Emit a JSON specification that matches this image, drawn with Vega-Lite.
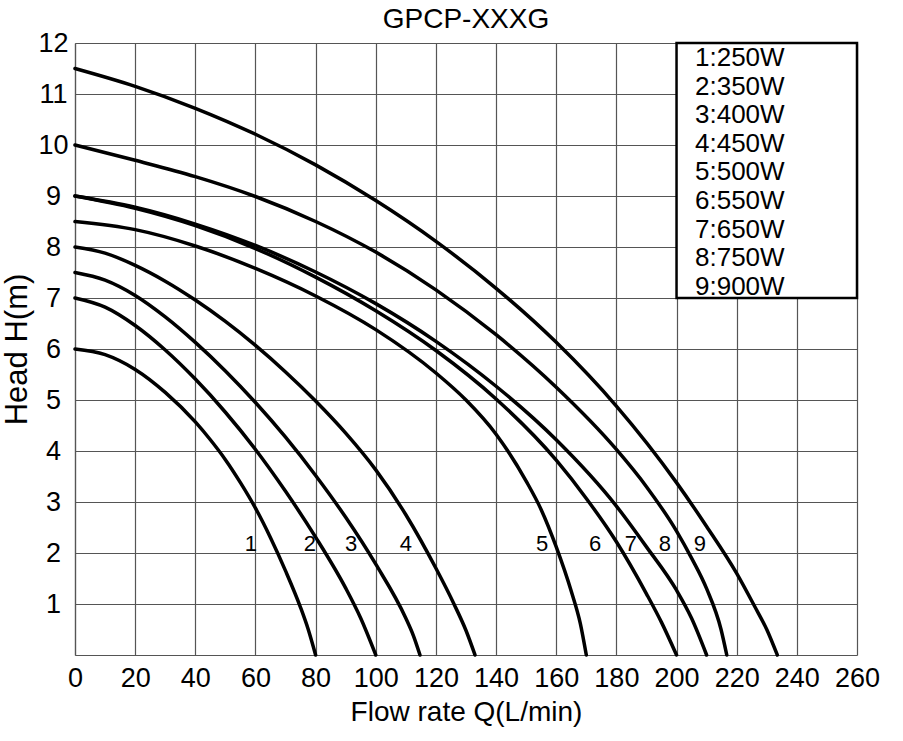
{
  "$schema": "https://vega.github.io/schema/vega-lite/v6.json",
  "width": 782,
  "height": 612,
  "autosize": {"type": "none"},
  "padding": {"left": 75, "top": 43, "right": 46, "bottom": 86},
  "background": "white",
  "title": {"text": "GPCP-XXXG", "fontSize": 28, "font": "Liberation Sans", "fontWeight": "normal", "color": "black", "anchor": "middle", "offset": -5},
  "datasets": {
    "curves": [
      {"s": "1:250W", "q": 0, "h": 6}, {"s": "1:250W", "q": 10, "h": 5.89}, {"s": "1:250W", "q": 20, "h": 5.6}, {"s": "1:250W", "q": 30, "h": 5.15}, {"s": "1:250W", "q": 40, "h": 4.57}, {"s": "1:250W", "q": 45, "h": 4.22}, {"s": "1:250W", "q": 50, "h": 3.83}, {"s": "1:250W", "q": 55, "h": 3.38}, {"s": "1:250W", "q": 60, "h": 2.88}, {"s": "1:250W", "q": 65, "h": 2.3}, {"s": "1:250W", "q": 70, "h": 1.65}, {"s": "1:250W", "q": 75, "h": 0.93}, {"s": "1:250W", "q": 77.5, "h": 0.51}, {"s": "1:250W", "q": 80, "h": 0},
      {"s": "2:350W", "q": 0, "h": 7}, {"s": "2:350W", "q": 10, "h": 6.82}, {"s": "2:350W", "q": 20, "h": 6.46}, {"s": "2:350W", "q": 30, "h": 5.98}, {"s": "2:350W", "q": 40, "h": 5.41}, {"s": "2:350W", "q": 50, "h": 4.76}, {"s": "2:350W", "q": 60, "h": 4.03}, {"s": "2:350W", "q": 70, "h": 3.21}, {"s": "2:350W", "q": 80, "h": 2.31}, {"s": "2:350W", "q": 90, "h": 1.31}, {"s": "2:350W", "q": 95, "h": 0.72}, {"s": "2:350W", "q": 100, "h": 0},
      {"s": "3:400W", "q": 0, "h": 7.5}, {"s": "3:400W", "q": 10, "h": 7.35}, {"s": "3:400W", "q": 20, "h": 7.05}, {"s": "3:400W", "q": 30, "h": 6.63}, {"s": "3:400W", "q": 40, "h": 6.13}, {"s": "3:400W", "q": 50, "h": 5.57}, {"s": "3:400W", "q": 60, "h": 4.95}, {"s": "3:400W", "q": 70, "h": 4.27}, {"s": "3:400W", "q": 80, "h": 3.52}, {"s": "3:400W", "q": 90, "h": 2.7}, {"s": "3:400W", "q": 100, "h": 1.78}, {"s": "3:400W", "q": 110, "h": 0.72}, {"s": "3:400W", "q": 112.5, "h": 0.38}, {"s": "3:400W", "q": 114.7, "h": 0},
      {"s": "4:450W", "q": 0, "h": 8}, {"s": "4:450W", "q": 10, "h": 7.88}, {"s": "4:450W", "q": 20, "h": 7.64}, {"s": "4:450W", "q": 30, "h": 7.33}, {"s": "4:450W", "q": 40, "h": 6.96}, {"s": "4:450W", "q": 50, "h": 6.54}, {"s": "4:450W", "q": 60, "h": 6.07}, {"s": "4:450W", "q": 70, "h": 5.55}, {"s": "4:450W", "q": 80, "h": 4.98}, {"s": "4:450W", "q": 90, "h": 4.35}, {"s": "4:450W", "q": 100, "h": 3.63}, {"s": "4:450W", "q": 110, "h": 2.75}, {"s": "4:450W", "q": 120, "h": 1.7}, {"s": "4:450W", "q": 126, "h": 1.0}, {"s": "4:450W", "q": 130, "h": 0.48}, {"s": "4:450W", "q": 133, "h": 0},
      {"s": "5:500W", "q": 0, "h": 8.5}, {"s": "5:500W", "q": 20, "h": 8.34}, {"s": "5:500W", "q": 40, "h": 8.02}, {"s": "5:500W", "q": 60, "h": 7.58}, {"s": "5:500W", "q": 80, "h": 7.04}, {"s": "5:500W", "q": 100, "h": 6.38}, {"s": "5:500W", "q": 120, "h": 5.53}, {"s": "5:500W", "q": 130, "h": 5.0}, {"s": "5:500W", "q": 140, "h": 4.33}, {"s": "5:500W", "q": 150, "h": 3.41}, {"s": "5:500W", "q": 155, "h": 2.85}, {"s": "5:500W", "q": 160, "h": 2.12}, {"s": "5:500W", "q": 165, "h": 1.25}, {"s": "5:500W", "q": 168, "h": 0.62}, {"s": "5:500W", "q": 170, "h": 0},
      {"s": "6:550W", "q": 0, "h": 9}, {"s": "6:550W", "q": 20, "h": 8.76}, {"s": "6:550W", "q": 40, "h": 8.42}, {"s": "6:550W", "q": 60, "h": 7.97}, {"s": "6:550W", "q": 80, "h": 7.41}, {"s": "6:550W", "q": 100, "h": 6.75}, {"s": "6:550W", "q": 120, "h": 5.97}, {"s": "6:550W", "q": 140, "h": 5.02}, {"s": "6:550W", "q": 160, "h": 3.82}, {"s": "6:550W", "q": 170, "h": 3.07}, {"s": "6:550W", "q": 180, "h": 2.22}, {"s": "6:550W", "q": 190, "h": 1.2}, {"s": "6:550W", "q": 195, "h": 0.64}, {"s": "6:550W", "q": 200, "h": 0},
      {"s": "7:650W", "q": 0, "h": 9}, {"s": "7:650W", "q": 20, "h": 8.78}, {"s": "7:650W", "q": 40, "h": 8.45}, {"s": "7:650W", "q": 60, "h": 8.03}, {"s": "7:650W", "q": 80, "h": 7.51}, {"s": "7:650W", "q": 100, "h": 6.89}, {"s": "7:650W", "q": 120, "h": 6.15}, {"s": "7:650W", "q": 140, "h": 5.27}, {"s": "7:650W", "q": 160, "h": 4.22}, {"s": "7:650W", "q": 180, "h": 2.92}, {"s": "7:650W", "q": 190, "h": 2.12}, {"s": "7:650W", "q": 200, "h": 1.27}, {"s": "7:650W", "q": 205, "h": 0.72}, {"s": "7:650W", "q": 210, "h": 0},
      {"s": "8:750W", "q": 0, "h": 10}, {"s": "8:750W", "q": 20, "h": 9.7}, {"s": "8:750W", "q": 40, "h": 9.38}, {"s": "8:750W", "q": 60, "h": 8.99}, {"s": "8:750W", "q": 80, "h": 8.5}, {"s": "8:750W", "q": 100, "h": 7.9}, {"s": "8:750W", "q": 120, "h": 7.16}, {"s": "8:750W", "q": 140, "h": 6.28}, {"s": "8:750W", "q": 160, "h": 5.25}, {"s": "8:750W", "q": 180, "h": 4.03}, {"s": "8:750W", "q": 190, "h": 3.3}, {"s": "8:750W", "q": 200, "h": 2.43}, {"s": "8:750W", "q": 205, "h": 1.9}, {"s": "8:750W", "q": 210, "h": 1.3}, {"s": "8:750W", "q": 214.8, "h": 0.5}, {"s": "8:750W", "q": 216.7, "h": 0},
      {"s": "9:900W", "q": 0, "h": 11.5}, {"s": "9:900W", "q": 20, "h": 11.15}, {"s": "9:900W", "q": 40, "h": 10.72}, {"s": "9:900W", "q": 60, "h": 10.21}, {"s": "9:900W", "q": 80, "h": 9.61}, {"s": "9:900W", "q": 100, "h": 8.91}, {"s": "9:900W", "q": 120, "h": 8.11}, {"s": "9:900W", "q": 140, "h": 7.19}, {"s": "9:900W", "q": 160, "h": 6.13}, {"s": "9:900W", "q": 180, "h": 4.88}, {"s": "9:900W", "q": 200, "h": 3.38}, {"s": "9:900W", "q": 210, "h": 2.52}, {"s": "9:900W", "q": 220, "h": 1.6}, {"s": "9:900W", "q": 226, "h": 0.95}, {"s": "9:900W", "q": 230, "h": 0.5}, {"s": "9:900W", "q": 233.5, "h": 0}
    ],
    "labels": [
      {"n": "1", "q": 58.5, "h": 2.17}, {"n": "2", "q": 78.1, "h": 2.17}, {"n": "3", "q": 91.8, "h": 2.17}, {"n": "4", "q": 110, "h": 2.17}, {"n": "5", "q": 155.3, "h": 2.17}, {"n": "6", "q": 172.9, "h": 2.17}, {"n": "7", "q": 184.8, "h": 2.17}, {"n": "8", "q": 196.1, "h": 2.17}, {"n": "9", "q": 207.8, "h": 2.17}
    ]
  },
  "layer": [
    {
      "data": {"values": [{}]},
      "mark": {"type": "rect", "fill": "white", "stroke": "black", "strokeWidth": 2.5},
      "encoding": {
        "x": {"datum": 200, "type": "quantitative", "title": "Flow rate Q(L/min)", "scale": {"domain": [0, 260], "nice": false, "zero": true}},
        "x2": {"datum": 260},
        "y": {"datum": 7, "type": "quantitative", "title": "Head H(m)", "scale": {"domain": [0, 12], "nice": false, "zero": true}},
        "y2": {"datum": 12}
      }
    },
    {
      "data": {"name": "curves"},
      "mark": {"type": "line", "interpolate": "monotone", "strokeWidth": 3.5, "strokeCap": "round"},
      "encoding": {
        "x": {"field": "q", "type": "quantitative", "title": "Flow rate Q(L/min)", "scale": {"domain": [0, 260], "nice": false, "zero": true},
          "axis": {"values": [0, 20, 40, 60, 80, 100, 120, 140, 160, 180, 200, 220, 240, 260], "labelPadding": 10, "titlePadding": 7, "labelFontSize": 27, "titleFontSize": 28}},
        "y": {"field": "h", "type": "quantitative", "title": "Head H(m)", "scale": {"domain": [0, 12], "nice": false, "zero": true},
          "axis": {"values": [1, 2, 3, 4, 5, 6, 7, 8, 9, 10, 11, 12], "labelAlign": "center", "labelBaseline": "middle", "labelPadding": 22, "titlePadding": 4, "labelFontSize": 27, "titleFontSize": 31}},
        "color": {"field": "s", "type": "nominal",
          "scale": {"range": ["black", "black", "black", "black", "black", "black", "black", "black", "black"]},
          "legend": {"title": null, "orient": "none", "legendX": 594, "legendY": 2, "padding": 0, "rowPadding": 2.6,
            "symbolSize": 0, "symbolStrokeWidth": 0, "symbolOpacity": 0, "symbolType": "stroke", "labelOffset": 0,
            "labelFontSize": 26, "labelFont": "Liberation Sans", "labelColor": "black", "labelLimit": 400}}
      }
    },
    {
      "data": {"name": "labels"},
      "mark": {"type": "text", "fontSize": 22, "font": "Liberation Sans", "color": "black", "align": "center", "baseline": "middle"},
      "encoding": {
        "x": {"field": "q", "type": "quantitative", "title": "Flow rate Q(L/min)", "scale": {"domain": [0, 260], "nice": false, "zero": true}},
        "y": {"field": "h", "type": "quantitative", "title": "Head H(m)", "scale": {"domain": [0, 12], "nice": false, "zero": true}},
        "text": {"field": "n"}
      }
    }
  ],
  "config": {
    "view": {"stroke": null},
    "axis": {"grid": true, "gridColor": "#555", "gridWidth": 1.2, "gridOpacity": 1, "domainColor": "#555", "domainWidth": 1.2, "ticks": false, "tickSize": 0,
      "labelFont": "Liberation Sans", "labelColor": "black", "labelFlush": false, "labelOverlap": false,
      "titleFont": "Liberation Sans", "titleFontWeight": "normal", "titleColor": "black"}
  }
}
